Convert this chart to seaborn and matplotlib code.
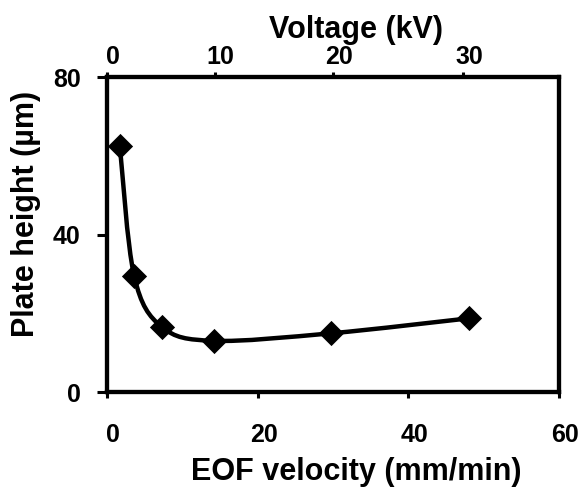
import numpy as np
import matplotlib
matplotlib.use('Agg')
import matplotlib.pyplot as plt
import seaborn as sns
import pandas as pd
from matplotlib.path import Path
from matplotlib.patches import PathPatch
from matplotlib.transforms import ScaledTranslation

# ---- data ----
eof_velocity = [1.7, 3.6, 7.3, 14.2, 29.7, 48.0]      # mm/min
plate_height = [62.5, 29.5, 16.5, 13.0, 14.9, 18.7]   # µm
x_ticks = [0, 20, 40, 60]
y_ticks = [0, 40, 80]
voltage_positions = [0, 14.3, 30.0, 47.3]             # on EOF-velocity scale
voltage_labels = ['0', '10', '20', '30']

sns.set_theme(style='ticks')
plt.rcParams['font.family'] = ['Liberation Sans', 'DejaVu Sans']
plt.rcParams['font.weight'] = 'bold'
plt.rcParams['axes.edgecolor'] = 'black'
plt.rcParams['axes.labelcolor'] = 'black'
plt.rcParams['text.color'] = 'black'
plt.rcParams['xtick.color'] = 'black'
plt.rcParams['ytick.color'] = 'black'
plt.rcParams['xtick.labelcolor'] = 'black'
plt.rcParams['ytick.labelcolor'] = 'black'

fig = plt.figure(figsize=(5.88, 4.94), dpi=100)
fig.patch.set_facecolor('white')
ax = fig.add_axes([107/588, 1-392/494, 452/588, 315/494])

df = pd.DataFrame({'eof': eof_velocity, 'h': plate_height})

# smoothed connecting line (Catmull-Rom Bezier through the data points)
pts = np.column_stack([df['eof'], df['h']]).astype(float)
n = len(pts)
verts = [pts[0]]
codes = [Path.MOVETO]
for i in range(n - 1):
    p0 = pts[i - 1] if i > 0 else pts[i]
    p1 = pts[i]
    p2 = pts[i + 1]
    p3 = pts[i + 2] if i + 2 < n else pts[i + 1]
    c1 = p1 + (p2 - p0) / 6.0
    c2 = p2 - (p3 - p1) / 6.0
    verts += [c1, c2, p2]
    codes += [Path.CURVE4] * 3
ax.add_patch(PathPatch(Path(verts, codes), facecolor='none', edgecolor='black',
                       linewidth=3.2, transform=ax.transData, zorder=2,
                       capstyle='round', joinstyle='round'))

sns.scatterplot(data=df, x='eof', y='h', marker='D', s=165, color='black',
                edgecolor='black', linewidth=0, zorder=3, ax=ax, legend=False)

ax.set_xlim(0, 60)
ax.set_ylim(0, 80)
ax.set_xticks(x_ticks)
ax.set_yticks(y_ticks)
ax.set_xticklabels([str(v) for v in x_ticks])
ax.set_yticklabels([str(v) for v in y_ticks])

for s in ax.spines.values():
    s.set_visible(True)
    s.set_linewidth(3)
    s.set_color('black')

ax.tick_params(axis='x', direction='out', length=4, width=2.2, pad=18,
               labelsize=18, labelcolor='black')
ax.tick_params(axis='y', direction='out', length=7, width=2.2, pad=12,
               labelsize=18, labelcolor='black')
for lab in ax.get_xticklabels():
    lab.set_fontweight('bold')
    lab.set_transform(lab.get_transform() + ScaledTranslation(0.06, 0, fig.dpi_scale_trans))
for lab in ax.get_yticklabels():
    lab.set_fontweight('bold')

ax.set_xlabel('EOF velocity (mm/min)', fontsize=22, fontweight='bold', color='black')
ax.set_ylabel('Plate height (µm)', fontsize=22, fontweight='bold', color='black')
ax.xaxis.set_label_coords((356 - 107) / 452, -(457 - 392) / 315)
ax.yaxis.set_label_coords((41 - 107) / 452, (392 - 214) / 315)

twin = ax.twiny()
twin.set_xlim(0, 60)
twin.set_xticks(voltage_positions)
twin.set_xticklabels(voltage_labels)
twin.tick_params(axis='x', direction='out', length=3.5, width=2.2, pad=2,
                 labelsize=18, labelcolor='black')
for lab in twin.get_xticklabels():
    lab.set_fontweight('bold')
    lab.set_transform(lab.get_transform() + ScaledTranslation(0.06, 0, fig.dpi_scale_trans))
for s in twin.spines.values():
    s.set_linewidth(3)
    s.set_color('black')
twin.set_xlabel('Voltage (kV)', fontsize=22, fontweight='bold', color='black')
twin.xaxis.set_label_coords((356 - 107) / 452, 1 + (77 - 38) / 315)

fig.savefig('out.png', dpi=100, facecolor='white')
